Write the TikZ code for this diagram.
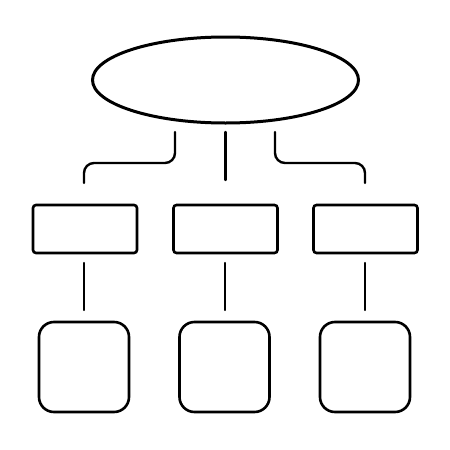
\documentclass[tikz,border=0pt]{standalone}
\usetikzlibrary{shapes.geometric,calc}
\begin{document}
\begin{tikzpicture}[x=1pt,y=-1pt,line width=2.6pt,line cap=round,
  topnode/.style={draw,ellipse,line width=3pt,minimum width=266pt,minimum height=86pt,inner sep=0pt,outer sep=0pt},
  midbox/.style={draw,rounded corners=3pt,minimum width=104pt,minimum height=48pt,inner sep=0pt,outer sep=0pt},
  lowbox/.style={draw,rounded corners=15pt,minimum width=90pt,minimum height=90pt,inner sep=0pt,outer sep=0pt},
  link/.style={line width=2.4pt}]
\useasboundingbox (0,0) rectangle (450,450);
\fill[white] (0,0) rectangle (450,450);
\node[topnode] (top) at (225.5,80) {};
\node[midbox] (b1) at (85,229) {};
\node[midbox] (b2) at (225.5,229) {};
\node[midbox] (b3) at (365.5,229) {};
\node[lowbox] (s1) at (84,367) {};
\node[lowbox] (s2) at (224.5,367) {};
\node[lowbox] (s3) at (365,367) {};
\coordinate (la) at ($(top.south)+(-50.5,9)$);
\coordinate (lb) at ($(b1.north)+(-1,-22)$);
\coordinate (ra) at ($(top.south)+(49.5,9)$);
\coordinate (rb) at ($(b3.north)+(-0.5,-22)$);
\draw[link,rounded corners=10pt] (la) |- ($(lb)+(0,-20)$) -- (lb);
\draw[link] ($(top.south)+(0,9)$) -- ($(b2.north)+(0,-25)$);
\draw[link,rounded corners=10pt] (ra) |- ($(rb)+(0,-20)$) -- (rb);
\draw[link] ($(b1.south)+(-1,10)$) -- ($(s1.north)+(0,-12)$);
\draw[link] ($(b2.south)+(-0.5,10)$) -- ($(s2.north)+(0.5,-12)$);
\draw[link] ($(b3.south)+(-0.5,10)$) -- ($(s3.north)+(0,-12)$);
\end{tikzpicture}
\end{document}
